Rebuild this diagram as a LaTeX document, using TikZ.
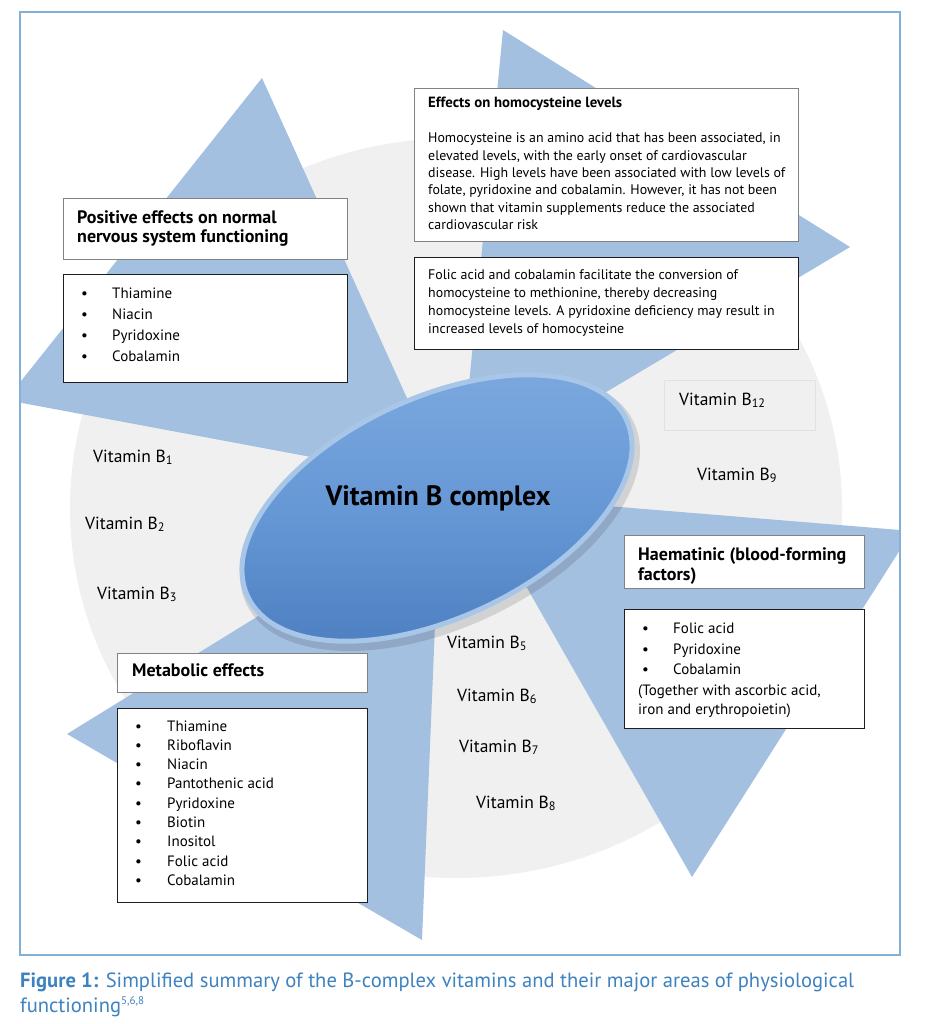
\documentclass[tikz,border=0pt]{standalone}
\usepackage{fontspec}
\setmainfont{PT Sans}
\definecolor{tri}{RGB}{164,192,225}
\definecolor{grayc}{RGB}{240,240,240}
\definecolor{framec}{RGB}{130,176,214}
\definecolor{capblue}{RGB}{62,130,192}
\definecolor{ellL}{RGB}{124,168,222}
\definecolor{ellM}{RGB}{102,152,214}
\definecolor{ellD}{RGB}{76,126,192}
\definecolor{rim}{RGB}{168,198,232}
\definecolor{faint}{RGB}{226,226,226}
\definecolor{thinb}{RGB}{130,130,130}
\definecolor{darkb}{RGB}{30,30,30}
\begin{document}
\begin{tikzpicture}[x=1pt,y=-1pt,
  txt/.style={inner sep=0pt, anchor=base west, font=\fontsize{15}{18}\selectfont},
  body/.style={inner sep=0pt, anchor=base west, font=\fontsize{13.9}{16}\selectfont},
  head/.style={inner sep=0pt, anchor=base west, font=\fontsize{18}{21}\selectfont\bfseries},
  vit/.style={inner sep=0pt, anchor=base west, font=\fontsize{17.5}{20}\selectfont},
  hbox/.style={draw=thinb, line width=0.8pt, fill=white, anchor=north west, inner sep=0pt},
  lbox/.style={draw=darkb, line width=1.4pt, fill=white, anchor=north west, inner sep=0pt},
  trifill/.style={fill=tri},
  captxt/.style={inner sep=0pt, anchor=base west, font=\fontsize{20.6}{24}\selectfont, text=capblue}
]
\useasboundingbox (0,0) rectangle (924,1024);
\fill[white] (0,0) rectangle (924,1024);

\begin{scope}
  \clip (20,12) rectangle (900,955);
  \fill[grayc] (456,508) ellipse [x radius=386, y radius=370];
  \fill[trifill] (262,78) -- (6,400) -- (445,482) -- cycle;
  \fill[trifill] (503,30) -- (850,247) -- (460,479) -- cycle;
  \fill[trifill] (474,495) -- (912,531) -- (692,877) -- cycle;
  \fill[trifill] (67,734) -- (422,940) -- (440,504) -- cycle;
\end{scope}
\draw[framec, line width=1.3pt] (20,12) rectangle (900,955);

% central ellipse
\fill[black, opacity=0.12, rotate around={25:(440,513)}] (440,513) ellipse [x radius=214, y radius=115];
\path[draw=rim, line width=5pt, top color=ellL, bottom color=ellD, middle color=ellM, rotate around={25:(437,508)}]
  (437,508) ellipse [x radius=209, y radius=110];
\node[inner sep=0pt, anchor=base, font=\fontsize{28}{32}\selectfont\bfseries] (center) at (438,505) {Vitamin B complex};

% nervous system boxes
\node[hbox, minimum width=284, minimum height=61] (nervH) at (63,198) {};
\node[head] (nervH1) at (77,223) {Positive effects on normal};
\node[head] (nervH2) at (77,243) {nervous system functioning};
\node[lbox, minimum width=284, minimum height=108] (nervL) at (63,274) {};
\foreach \t [count=\i] in {Thiamine, Niacin, Pyridoxine, Cobalamin} {
  \node[txt] (nb\i) at (81,{298+21*(\i-1)}) {•};
  \node[txt] (nt\i) at (112,{298+21*(\i-1)}) {\t};
}

% homocysteine boxes
\node[hbox, minimum width=384, minimum height=153] (homA) at (414,88) {};
\node[inner sep=0pt, anchor=base west, font=\fontsize{14.8}{17}\selectfont\bfseries] (homAh) at (428,108) {Effects on homocysteine levels};
\foreach \t [count=\i] in {{Homocysteine is an amino acid that has been associated, in},
  {elevated levels, with the early onset of cardiovascular},
  {disease. High levels have been associated with low levels of},
  {folate, pyridoxine and cobalamin. However, it has not been},
  {shown that vitamin supplements reduce the associated},
  {cardiovascular risk}} {
  \node[body] (homA\i) at (428,{143+17.3*(\i-1)}) {\t};
}
\node[lbox, minimum width=384, minimum height=92] (homB) at (414,257) {};
\foreach \t [count=\i] in {{Folic acid and cobalamin facilitate the conversion of},
  {homocysteine to methionine, thereby decreasing},
  {homocysteine levels. A pyridoxine deficiency may result in},
  {increased levels of homocysteine}} {
  \node[body] (homB\i) at (428,{279+18.3*(\i-1)}) {\t};
}

% haematinic boxes
\node[hbox, minimum width=240, minimum height=53] (haemH) at (624,535) {};
\node[head] (haemH1) at (638,560) {Haematinic (blood-forming};
\node[head] (haemH2) at (638,580) {factors)};
\node[lbox, minimum width=240, minimum height=119] (haemL) at (624,609) {};
\foreach \t/\yy [count=\i] in {Folic acid/633, Pyridoxine/654, Cobalamin/674} {
  \node[txt] (hb\i) at (642,\yy) {•};
  \node[txt] (ht\i) at (673,\yy) {\t};
}
\node[txt] (ht4) at (638,695) {(Together with ascorbic acid,};
\node[txt] (ht5) at (638,714) {iron and erythropoietin)};

% metabolic boxes
\node[hbox, minimum width=250, minimum height=39] (metH) at (117,653) {};
\node[head] (metH1) at (132,676) {Metabolic effects};
\node[lbox, minimum width=250, minimum height=194] (metL) at (117,708) {};
\foreach \t [count=\i] in {Thiamine, Riboflavin, Niacin, Pantothenic acid, Pyridoxine, Biotin, Inositol, Folic acid, Cobalamin} {
  \node[txt] (mb\i) at (135,{731+19.3*(\i-1)}) {•};
  \node[txt] (mt\i) at (167,{731+19.3*(\i-1)}) {\t};
}

% vitamin labels
\node[draw=faint, line width=0.8pt, anchor=north west, minimum width=151, minimum height=50, inner sep=0pt] (b12box) at (664,380) {};
\node[vit] (v12) at (679,405) {Vitamin B\textsubscript{12}};
\node[vit] (v9) at (697,480) {Vitamin B\textsubscript{9}};
\node[vit] (v1) at (93,462) {Vitamin B\textsubscript{1}};
\node[vit] (v2) at (85,529) {Vitamin B\textsubscript{2}};
\node[vit] (v3) at (97,599) {Vitamin B\textsubscript{3}};
\node[vit] (v5) at (447,648) {Vitamin B\textsubscript{5}};
\node[vit] (v6) at (457,701) {Vitamin B\textsubscript{6}};
\node[vit] (v7) at (459,752) {Vitamin B\textsubscript{7}};
\node[vit] (v8) at (476,808) {Vitamin B\textsubscript{8}};

% caption
\node[captxt] (cap1) at (20,987)
  {\textbf{Figure 1:} Simplified summary of the B-complex vitamins and their major areas of physiological};
\node[captxt] (cap2) at (20,1012)
  {functioning\textsuperscript{\fontsize{11}{12}\selectfont 5,6,8}};
\end{tikzpicture}
\end{document}
